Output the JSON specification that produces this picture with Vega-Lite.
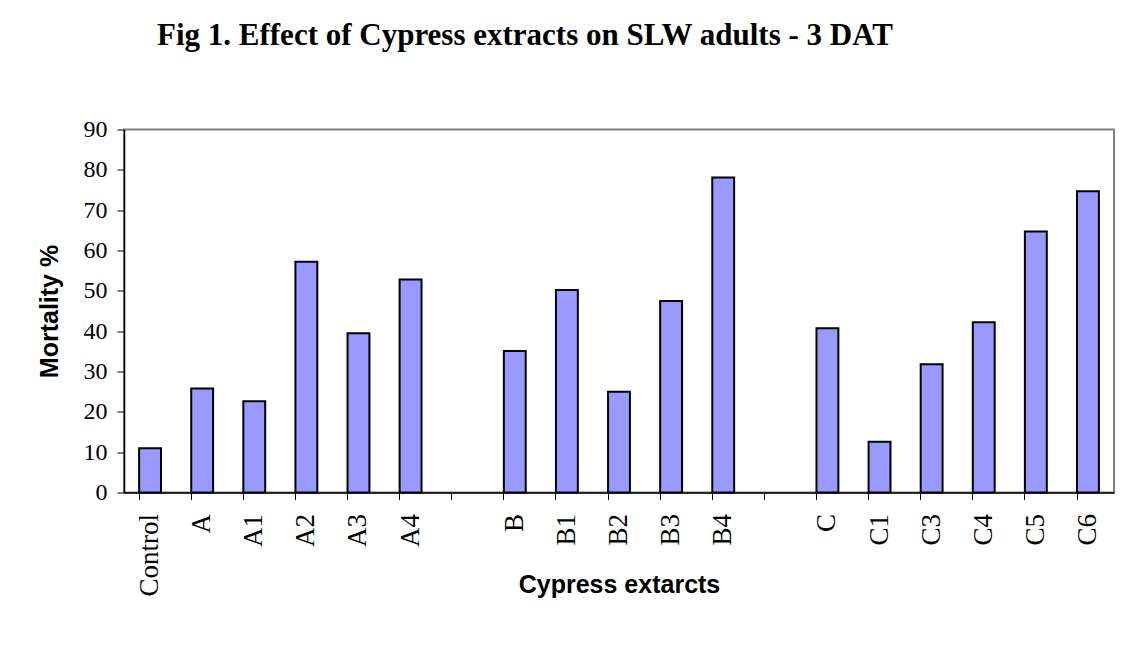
{
  "$schema": "https://vega.github.io/schema/vega-lite/v6.json",
  "width": 990,
  "height": 363,
  "autosize": {"type": "none"},
  "padding": {"left": 124, "top": 129.5, "right": 29, "bottom": 168.5},
  "background": "white",
  "title": {
    "text": "Fig 1. Effect of Cypress extracts on SLW adults - 3 DAT",
    "font": "Liberation Serif",
    "fontSize": 31,
    "fontWeight": "bold",
    "color": "black",
    "anchor": "start",
    "frame": "group",
    "dx": 33,
    "offset": 66
  },
  "data": {
    "values": [
      {"extract": "Control", "mortality": 11.0},
      {"extract": "A", "mortality": 25.8},
      {"extract": "A1", "mortality": 22.6},
      {"extract": "A2", "mortality": 57.2},
      {"extract": "A3", "mortality": 39.5},
      {"extract": "A4", "mortality": 52.8},
      {"extract": "B", "mortality": 35.1},
      {"extract": "B1", "mortality": 50.2},
      {"extract": "B2", "mortality": 25.0},
      {"extract": "B3", "mortality": 47.5},
      {"extract": "B4", "mortality": 78.1},
      {"extract": "C", "mortality": 40.7},
      {"extract": "C1", "mortality": 12.6},
      {"extract": "C3", "mortality": 31.8},
      {"extract": "C4", "mortality": 42.2},
      {"extract": "C5", "mortality": 64.7},
      {"extract": "C6", "mortality": 74.7}
    ]
  },
  "mark": {"type": "bar", "color": "#9999FF", "stroke": "black", "strokeWidth": 2},
  "encoding": {
    "x": {
      "field": "extract",
      "type": "nominal",
      "scale": {
        "domain": ["Control","A","A1","A2","A3","A4","gap1","B","B1","B2","B3","B4","gap2","C","C1","C3","C4","C5","C6"],
        "paddingInner": 0.58,
        "paddingOuter": 0.29
      },
      "axis": {
        "title": "Cypress extarcts",
        "titleFont": "Liberation Sans",
        "titleFontSize": 25,
        "titleFontWeight": "bold",
        "titleColor": "black",
        "titleY": 92,
        "titleBaseline": "middle",
        "labelExpr": "indexof(['gap1','gap2'], datum.value) >= 0 ? '' : datum.value",
        "labelAngle": 270,
        "labelFont": "Liberation Serif",
        "labelFontSize": 27,
        "labelColor": "black",
        "labelPadding": 14,
        "bandPosition": 0,
        "tickColor": "black",
        "tickSize": 7,
        "domainColor": "black",
        "domainWidth": 1.5,
        "grid": false
      }
    },
    "y": {
      "field": "mortality",
      "type": "quantitative",
      "scale": {"domain": [0, 90], "nice": false},
      "axis": {
        "title": "Mortality %",
        "titleFont": "Liberation Sans",
        "titleFontSize": 25,
        "titleFontWeight": "bold",
        "titleColor": "black",
        "titleX": -75,
        "titleBaseline": "middle",
        "values": [0,10,20,30,40,50,60,70,80,90],
        "labelFont": "Liberation Serif",
        "labelFontSize": 24,
        "labelColor": "black",
        "labelPadding": 10,
        "tickColor": "black",
        "tickSize": 7,
        "domainColor": "black",
        "domainWidth": 1.5,
        "grid": false
      }
    }
  },
  "config": {
    "view": {"stroke": "#808080", "strokeWidth": 2}
  }
}
